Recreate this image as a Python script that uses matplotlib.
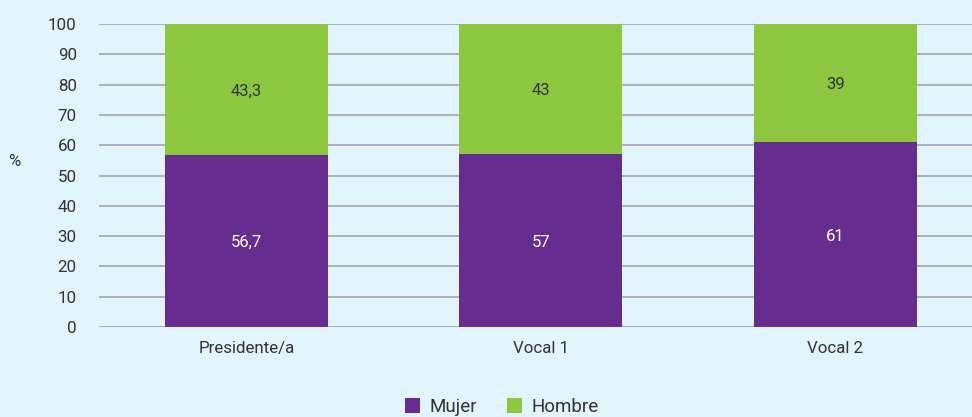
import matplotlib.pyplot as plt
import numpy as np

categories = ["Presidente/a", "Vocal 1", "Vocal 2"]
mujer = [56.7, 57, 61]
hombre = [43.3, 43, 39]
mujer_labels = ["56,7", "57", "61"]
hombre_labels = ["43,3", "43", "39"]

plt.rcParams["font.family"] = ["Roboto", "DejaVu Sans"]

bg = "#e1f3fb"
purple = "#652d90"
green = "#8dc63f"
text_col = "#333333"

fig = plt.figure(figsize=(9.72, 4.17), dpi=100, facecolor=bg)
ax = fig.add_axes([99 / 972, 1 - 327 / 417, 1 - 99 / 972, (327 - 24) / 417])
ax.set_facecolor(bg)

x = np.arange(len(categories))
width = 0.553
b1 = ax.bar(x, mujer, width, color=purple, label="Mujer", zorder=3)
b2 = ax.bar(x, hombre, width, bottom=mujer, color=green, label="Hombre", zorder=3)

for i in range(len(categories)):
    ax.text(x[i], mujer[i] / 2, mujer_labels[i], ha="center",
            va="center_baseline", color="white", fontsize=12, zorder=4)
    ax.text(x[i], mujer[i] + hombre[i] / 2, hombre_labels[i], ha="center",
            va="center_baseline", color=text_col, fontsize=12, zorder=4)

ax.set_ylim(0, 100)
ax.set_yticks(range(0, 101, 10))
ax.set_xlim(-0.5, (972 - 99) / 294.5 - 0.5)
ax.set_xticks(x)
ax.set_xticklabels(categories)
ax.grid(axis="y", color="#a6a6a6", linewidth=1.2, zorder=0)
for s in ax.spines.values():
    s.set_visible(False)
ax.tick_params(axis="both", length=0, colors=text_col, labelsize=12.2)
ax.tick_params(axis="y", pad=16)
ax.tick_params(axis="x", pad=10)

fig.text(14 / 972, 1 - 162 / 417, "%", ha="center", va="center",
         color=text_col, fontsize=12)

fig.legend(handles=[b1, b2], labels=["Mujer", "Hombre"], loc="center",
           bbox_to_anchor=(502 / 972, 1 - 407 / 417), ncol=2, frameon=False,
           fontsize=13.5, handlelength=0.8, handleheight=0.8, handletextpad=0.5,
           columnspacing=1.6, labelcolor=text_col)

fig.savefig("out.png", dpi=100, facecolor=bg)
